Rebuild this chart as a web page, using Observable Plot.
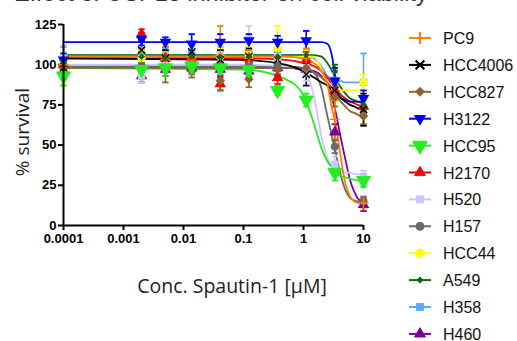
<!DOCTYPE html>
<html><head><meta charset="utf-8">
<script src="https://cdn.jsdelivr.net/npm/d3@7"></script>
<script src="https://cdn.jsdelivr.net/npm/@observablehq/plot@0.6"></script>
<style>
html,body{margin:0;padding:0;background:#fff;overflow:hidden;width:517px;height:341px}
#wrap{position:relative;width:517px;height:341px;overflow:hidden}
#title{position:absolute;left:14px;top:-20px;font:23.5px "Liberation Sans",Arial,sans-serif;color:#333;white-space:nowrap}
#chart{position:absolute;left:0;top:0}
#ylab{position:absolute;left:22px;top:132px;transform:translate(-50%,-50%) rotate(-90deg);font:19px "Open Sans",sans-serif;white-space:nowrap;color:#222}
#xlab{position:absolute;left:232px;top:285px;transform:translate(-50%,-50%);font:19.5px "Open Sans",sans-serif;white-space:nowrap;color:#222}
#legend{position:absolute;left:405px;top:0}
</style></head><body>
<div id="wrap">
  <div id="title">Effect of USP13 inhibitor on cell viability</div>
  <div id="chart"></div>
  <div id="ylab">% survival</div>
  <div id="xlab">Conc. Spautin-1 [µM]</div>
  <svg id="legend" width="112" height="341"></svg>
</div>
<script>
// ---- data ----
const doses = [0.0001, 0.002, 0.005, 0.0137, 0.041, 0.123, 0.37, 1.11, 3.33, 10];
const fitX  = [0.0001, 0.1, 0.5, 1, 1.5, 2, 2.5, 3, 3.5, 4, 5, 6, 7, 8, 10];
const xTicks = [0.0001, 0.001, 0.01, 0.1, 1, 10];
const xTickLabels = ["0.0001", "0.001", "0.01", "0.1", "1", "10"];
const yTicks = [0, 25, 50, 75, 100, 125];

const cellLines = ["PC9", "HCC4006", "HCC827", "H3122", "HCC95", "H2170", "H520", "H157", "HCC44", "A549", "H358", "H460"];
const colors = ["#FF8000", "#000000", "#8C6430", "#0000FF", "#22EE22", "#FF0000", "#C8C8FF", "#696969", "#FFFF00", "#0B6B0B", "#5AA9FF", "#7B00A0"];
const markers = ["plus", "times", "diamond2", "triangle", "triangle", "triangle", "square", "circle", "circle", "diamond2", "square", "triangle"];
const flipped = ["H3122", "HCC95"];

// measured means (% survival) at each dose
const PC9      = [100, 105, 103, 103, 106, 104, 105, 104, 66, 14];
const HCC4006  = [98, 109, 104, 108, 103, 105, 103, 94, 84, 72];
const HCC827   = [98, 98, 97, 96, 90, 91, 97, 98, 80, 68];
const H3122    = [103, 116, 114, 113, 114, 115, 114, 115, 90, 79];
const HCC95    = [93, 97, 98, 99, 98, 97, 84, 78, 33, 28];
const H2170    = [100, 119, 104, 104, 88, 104, 92, 103, 84, 74];
const H520     = [104, 93, 101, 103, 106, 116, 105, 95, 38, 30];
const H157     = [99, 99, 100, 101, 100, 101, 100, 97, 49, 15];
const HCC44    = [95, 104, 103, 104, 105, 106, 110, 104, 84, 89];
const A549     = [101, 105, 104, 105, 105, 105, 105, 106, 96, 75];
const H358     = [104, 106, 105, 107, 106, 106, 106, 104, 90, 89];
const H460     = [96, 93, 97, 98, 97, 96, 98, 97, 58, 13];

// error bars (SD)
const PC9_sd     = [5, 5, 8, 6, 18, 5, 6, 6, 12, 3];
const HCC4006_sd = [5, 6, 5, 6, 6, 5, 5, 7, 6, 10];
const HCC827_sd  = [4, 5, 8, 4, 6, 5, 4, 5, 6, 5];
const H3122_sd   = [4, 4, 3, 6, 5, 4, 4, 6, 8, 5];
const HCC95_sd   = [6, 6, 5, 5, 4, 4, 3, 4, 5, 4];
const H2170_sd   = [4, 3, 5, 5, 4, 5, 4, 5, 5, 5];
const H520_sd    = [8, 4, 5, 5, 5, 8, 5, 5, 5, 4];
const H157_sd    = [4, 4, 4, 4, 4, 4, 4, 4, 4, 3];
const HCC44_sd   = [7, 5, 5, 5, 5, 5, 14, 5, 5, 5];
const A549_sd    = [4, 4, 4, 4, 4, 4, 4, 4, 4, 4];
const H358_sd    = [7, 5, 5, 5, 5, 5, 5, 5, 5, 18];
const H460_sd    = [5, 4, 4, 4, 4, 4, 4, 4, 5, 4];

// fitted dose-response curves at fitX
const PC9_fit     = [105, 105, 105, 104, 101, 96, 88, 72, 62, 47, 26, 18, 15, 14, 13];
const HCC4006_fit = [104, 103, 100, 96, 92, 89, 87, 84, 82, 80, 77, 75, 74, 73, 72];
const HCC827_fit  = [98, 98, 98, 97, 95, 92, 89, 85, 81, 78, 74, 71, 70, 69, 68];
const H3122_fit   = [114, 114, 114, 114, 114, 114, 113, 105, 88, 80, 78, 77, 77, 77, 77];
const HCC95_fit   = [98, 97, 91, 81, 63, 48, 40, 36, 33, 31, 30, 29, 28.5, 28, 28];
const H2170_fit   = [104, 104, 103, 101, 99, 96, 92, 88, 85, 82, 79, 77, 76, 75, 74];
const H520_fit    = [100, 100, 99, 96, 80, 55, 42, 37, 35, 34, 33, 33, 32, 32, 32];
const H157_fit    = [99, 99, 99, 98, 95, 85, 68, 55, 44, 34, 22, 17, 15.5, 15, 15];
const HCC44_fit   = [105, 105, 105, 105, 105, 97, 86, 84, 84, 84, 84, 84, 84, 84, 84];
const A549_fit    = [106, 106, 106, 106, 106, 105, 101, 96, 91, 87, 82, 79, 78, 77, 76];
const H358_fit    = [106, 106, 106, 106, 104, 99, 93, 91, 90, 90, 89, 89, 89, 89, 89];
const H460_fit    = [98, 98, 98, 97, 96, 93, 87, 79, 69, 58, 41, 28, 21, 17, 14];

const meanRows = [PC9, HCC4006, HCC827, H3122, HCC95, H2170, H520, H157, HCC44, A549, H358, H460];
const sdRows = [PC9_sd, HCC4006_sd, HCC827_sd, H3122_sd, HCC95_sd, H2170_sd, H520_sd, H157_sd, HCC44_sd, A549_sd, H358_sd, H460_sd];
const fitRows = [PC9_fit, HCC4006_fit, HCC827_fit, H3122_fit, HCC95_fit, H2170_fit, H520_fit, H157_fit, HCC44_fit, A549_fit, H358_fit, H460_fit];

// tidy tables, drawn last-to-first so PC9 ends on top
const data = [], fits = [];
for (let i = cellLines.length - 1; i >= 0; i--) {
  doses.forEach((dose, j) => data.push({name: cellLines[i], dose, mean: meanRows[i][j], sd: sdRows[i][j]}));
  fitX.forEach((dose, j) => fits.push({name: cellLines[i], dose, value: fitRows[i][j]}));
}

const capSymbol = {draw(ctx, size) { const w = Math.sqrt(size / Math.PI); ctx.moveTo(-w, 0); ctx.lineTo(w, 0); }};
const rotateOf = d => flipped.includes(d.name) ? 180 : 0;
const bigOnes = ["HCC95"];
const smallOnes = ["A549"];

const chart = Plot.plot({
  width: 380, height: 300,
  marginLeft: 63, marginRight: 17, marginTop: 24, marginBottom: 75,
  style: {fontFamily: "'Liberation Sans', Arial, sans-serif", fontSize: "13px", fontWeight: "bold", color: "#000", background: "transparent"},
  x: {type: "log", domain: [0.0001, 10]},
  y: {domain: [0, 125]},
  color: {domain: cellLines, range: colors},
  symbol: {domain: cellLines, range: markers},
  marks: [
    Plot.axisX({ticks: xTicks, tickFormat: d => xTickLabels[xTicks.indexOf(d)], tickSize: 5, tickPadding: 3, strokeWidth: 2, label: null}),
    Plot.axisY({ticks: yTicks, tickSize: 5, tickPadding: 2, strokeWidth: 2, label: null}),
    Plot.line(fits, {x: "dose", y: "value", z: "name", stroke: "name", curve: "monotone-x", strokeWidth: 1.8}),
    Plot.ruleX(data, {x: "dose", y1: d => d.mean - d.sd, y2: d => d.mean + d.sd, stroke: "name", strokeWidth: 1.6}),
    Plot.dot(data, {x: "dose", y: d => d.mean - d.sd, stroke: "name", symbol: capSymbol, r: 3.2, strokeWidth: 1.8}),
    Plot.dot(data, {x: "dose", y: d => d.mean + d.sd, stroke: "name", symbol: capSymbol, r: 3.2, strokeWidth: 1.8}),
    Plot.dot(data.filter(d => !bigOnes.includes(d.name) && !smallOnes.includes(d.name)), {x: "dose", y: "mean", fill: "name", stroke: "name", symbol: "name", rotate: rotateOf, r: 3.4, strokeWidth: 1.4}),
    Plot.dot(data.filter(d => smallOnes.includes(d.name)), {x: "dose", y: "mean", fill: "name", stroke: "name", symbol: "name", r: 2.5, strokeWidth: 1}),
    Plot.dot(data.filter(d => bigOnes.includes(d.name)), {x: "dose", y: "mean", fill: "name", stroke: "name", symbol: "name", rotate: rotateOf, r: 5.2, strokeWidth: 1}),
    Plot.ruleY([0], {strokeWidth: 2}),
    Plot.ruleX([0.0001], {strokeWidth: 2})
  ]
});
document.getElementById("chart").appendChild(chart);

// ---- legend ----
const symMap = {plus: d3.symbolPlus, times: d3.symbolTimes, diamond2: d3.symbolDiamond2, triangle: d3.symbolTriangle, square: d3.symbolSquare, circle: d3.symbolCircle};
const leg = d3.select("#legend");
cellLines.forEach((name, i) => {
  const yc = 38 + i * 26.9;
  const g = leg.append("g").attr("transform", `translate(0,${yc})`);
  g.append("line").attr("x1", 4).attr("x2", 26).attr("y1", 0).attr("y2", 0).attr("stroke", colors[i]).attr("stroke-width", 2);
  const r = name === "HCC95" ? 5.5 : name === "A549" ? 2.8 : 4;
  const stroked = markers[i] === "plus" || markers[i] === "times";
  g.append("path")
    .attr("d", d3.symbol(symMap[markers[i]], r * r * Math.PI)())
    .attr("transform", `translate(15,0) rotate(${flipped.includes(name) ? 180 : 0})`)
    .attr("fill", stroked ? "none" : colors[i])
    .attr("stroke", colors[i]).attr("stroke-width", stroked ? 2.2 : 1);
  g.append("text").attr("x", 38).attr("y", 6).attr("font-family", "'Liberation Sans', Arial, sans-serif").attr("font-size", 16).attr("fill", "#111").text(name);
});
</script>
</body></html>
